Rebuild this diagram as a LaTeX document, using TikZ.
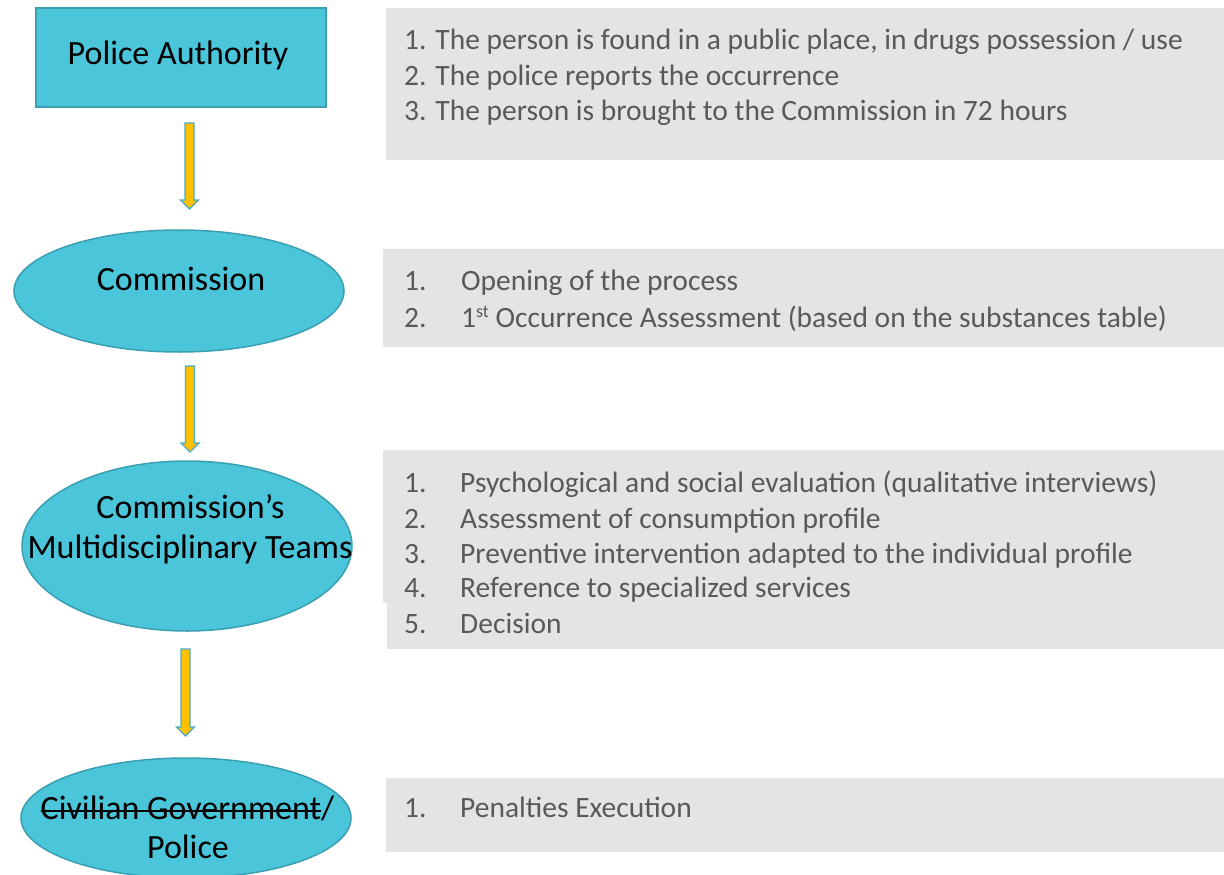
\documentclass[tikz,border=0pt]{standalone}
\usepackage{fontspec}
\setmainfont{Carlito}
\usetikzlibrary{shapes.geometric,calc}
\newcommand{\strk}[1]{\setbox0\hbox{#1}\rlap{\raisebox{7pt}{\rule{\wd0}{1.8pt}}}\box0}
\newcommand{\supst}[1]{\raisebox{10pt}{\fontsize{18}{18}\selectfont #1}}
\definecolor{cyanfill}{HTML}{4BC5DA}
\definecolor{cyanline}{HTML}{3A9FB1}
\definecolor{graybox}{HTML}{E4E4E4}
\definecolor{graytext}{HTML}{595959}
\definecolor{arrowfill}{HTML}{FFC000}
\definecolor{arrowline}{HTML}{4BACC6}
\newcommand{\blkarrow}[4]{% name, x, ytop, ytip
  \coordinate (#1) at (#2,#3);
  \fill[arrowfill,draw=arrowline,line width=1.3pt]
    ($(#1)+(-4.5,0)$) -- ($(#1)+(4.5,0)$) -- ($(#1)+(4.5,#4-#3-9)$)
    -- ($(#1)+(9,#4-#3-9)$) -- ($(#1)+(0,#4-#3)$) -- ($(#1)+(-9,#4-#3-9)$)
    -- ($(#1)+(-4.5,#4-#3-9)$) -- cycle;}
\begin{document}
\begin{tikzpicture}[x=1pt,y=-1pt,
  shapebox/.style={fill=cyanfill,draw=cyanline,line width=1.5pt,inner sep=0pt},
  lbl/.style={inner sep=0pt,anchor=base,font=\fontsize{34}{40}\selectfont,text=black},
  item/.style={inner sep=0pt,anchor=base west,font=\fontsize{29.5}{35}\selectfont,text=graytext},
  gbox/.style={fill=graybox,draw=none}]
\useasboundingbox (0,0) rectangle (1224,875);
\fill[white] (0,0) rectangle (1224,875);

% gray boxes
\fill[graybox] (386,8) rectangle (1224,160);
\fill[graybox] (383,249) rectangle (1224,347);
\fill[graybox] (383,450) rectangle (1224,603);
\fill[graybox] (387,603) rectangle (1224,649);
\fill[graybox] (386,778) rectangle (1224,852);

% left shapes
\node[shapebox,rectangle,minimum width=290pt,minimum height=99pt] (pa) at (181,57.5) {};
\node[shapebox,ellipse,minimum width=330pt,minimum height=122pt] (com) at (179,291) {};
\node[shapebox,ellipse,minimum width=330pt,minimum height=170pt] (mdt) at (187,546) {};
\node[shapebox,ellipse,minimum width=330pt,minimum height=120pt] (cgp) at (186,818) {};

\node[lbl] (pat) at (178,65) {Police Authority};
\node[lbl] (comt) at (181,290) {Commission};
\node[lbl] (mdt1) at (190.5,518) {Commission’s};
\node[lbl] (mdt2) at (190,558) {Multidisciplinary Teams};
\node[lbl] (cgp1) at (187.5,819) {\strk{Civilian Government}/};
\node[lbl] (cgp2) at (188,858) {Police};

% arrows
\blkarrow{a1}{189.5}{123}{209}
\blkarrow{a2}{190}{366}{452}
\blkarrow{a3}{185.5}{649}{736}

% box 1
\node[item] (b1a) at (404,50) {1. The person is found in a public place, in drugs possession / use};
\node[item] (b1b) at (404,85) {2. The police reports the occurrence};
\node[item] (b1c) at (404,120) {3. The person is brought to the Commission in 72 hours};

% box 2
\node[item] (b2n1) at (404,290) {1.};
\node[item] (b2t1) at (461,290) {Opening of the process};
\node[item] (b2n2) at (404,327) {2.};
\node[item] (b2t2) at (461,327) {1\supst{st} Occurrence Assessment (based on the substances table)};

% box 3
\node[item] (b3n1) at (404,492) {1.};
\node[item] (b3t1) at (460,492) {Psychological and social evaluation (qualitative interviews)};
\node[item] (b3n2) at (404,528) {2.};
\node[item] (b3t2) at (460,528) {Assessment of consumption profile};
\node[item] (b3n3) at (404,563) {3.};
\node[item] (b3t3) at (460,563) {Preventive intervention adapted to the individual profile};
\node[item] (b3n4) at (404,597) {4.};
\node[item] (b3t4) at (460,597) {Reference to specialized services};
\node[item] (b3n5) at (404,633) {5.};
\node[item] (b3t5) at (460,633) {Decision};

% box 4
\node[item] (b4n1) at (404,817) {1.};
\node[item] (b4t1) at (460,817) {Penalties Execution};
\end{tikzpicture}
\end{document}
